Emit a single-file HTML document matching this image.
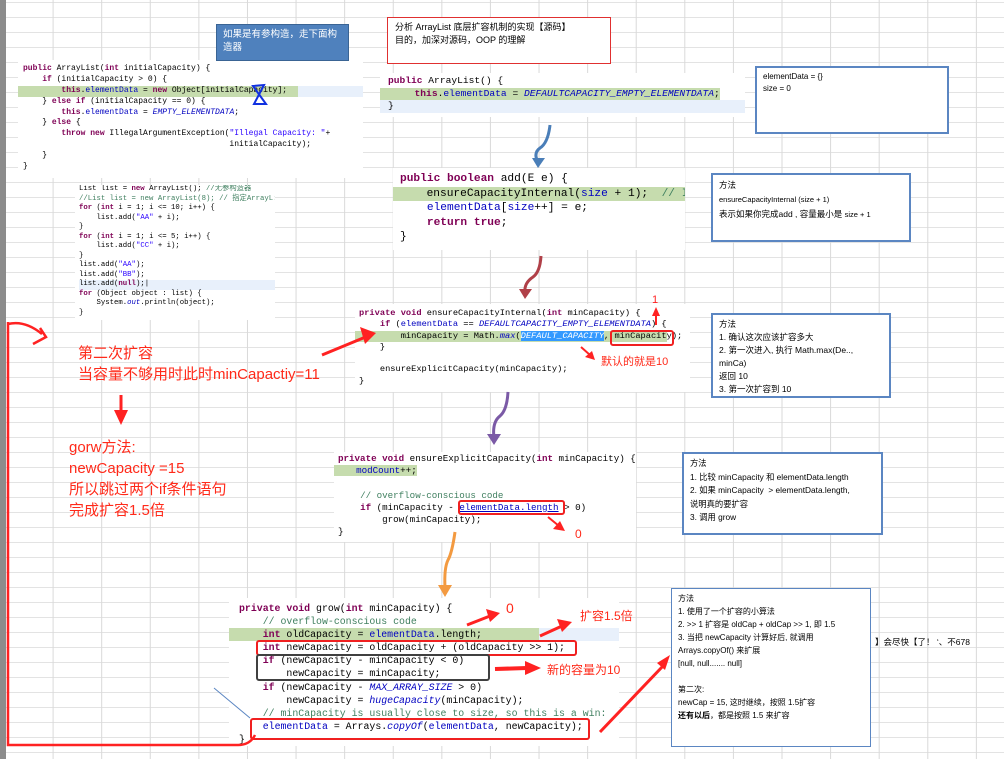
<!DOCTYPE html>
<html><head><meta charset="utf-8"><style>
*{margin:0;padding:0;box-sizing:border-box}
html,body{width:1004px;height:759px;overflow:hidden}
body{position:relative;background:#fff;
background-image:linear-gradient(to right,#d9d9d9 1px,transparent 1px),linear-gradient(to bottom,#e3e3e3 1px,transparent 1px);
background-size:48.6px 15px;background-position:4px 2px;font-family:"Liberation Sans","Noto Sans CJK SC",sans-serif}
.a{position:absolute}
.code{position:absolute;background:#fff;font-family:"Liberation Mono",monospace;color:#000;white-space:normal;overflow:hidden}
.code div{position:relative;height:var(--lh);line-height:var(--lh);white-space:pre}
.k{color:#7f0055;font-weight:bold}
.f{color:#0000c0}
.i{color:#0000c0;font-style:italic}
.c{color:#3f7f5f}
.s{color:#2a00ff}
.g{background:#c6dcae}
.hl{background:#e8f0fb}
.box{position:absolute;background:#fff;border:2px solid #5b86c2;font-size:9px;line-height:13.5px;padding:3px 6px;color:#000}
.rt{position:absolute;color:#ff2a1a;font-size:15px;line-height:21px;white-space:nowrap}
.rbox{position:absolute;border:2.5px solid #f02020;border-radius:3px}
</style></head><body>
<div class="a" style="left:0;top:0;width:6px;height:759px;background:#8c8c8c"></div>

<div class="code" style="left:18px;top:60px;width:345px;height:118px;font-size:8px;--lh:10.9px;padding-top:4px"><div style="left:5px"><span class="k">public</span> ArrayList(<span class="k">int</span> initialCapacity) {</div><div style="left:5px">    <span class="k">if</span> (initialCapacity &gt; 0) {</div><div class="hl" style="left:-2px;width:348px"><span class="g" style="padding-left:7px;display:inline-block;width:282px">        <span class="k">this</span>.<span class="f">elementData</span> = <span class="k">new</span> Object[initialCapacity];</span></div><div style="left:5px">    } <span class="k">else if</span> (initialCapacity == 0) {</div><div style="left:5px">        <span class="k">this</span>.<span class="f">elementData</span> = <span class="i">EMPTY_ELEMENTDATA</span>;</div><div style="left:5px">    } <span class="k">else</span> {</div><div style="left:5px">        <span class="k">throw new</span> IllegalArgumentException(<span class="s">"Illegal Capacity: "</span>+</div><div style="left:5px">                                           initialCapacity);</div><div style="left:5px">    }</div><div style="left:5px">}</div></div>
<svg class="a" style="left:250px;top:82px" width="20" height="28"><path d="M3 4 L14 3 L4 22 L16 22 Z" fill="none" stroke="#1030e0" stroke-width="2"/></svg>

<div class="a" style="left:216px;top:24px;width:133px;height:37px;background:#4f81bd;border:1px solid #3a6494;color:#fff;font-size:9.5px;line-height:13px;padding:3px 6px">如果是有参构造，走下面构造器</div>

<div class="a" style="left:387px;top:17px;width:224px;height:47px;border:1.5px solid #e03030;background:#fff;font-size:9px;line-height:12.5px;padding:3px 7px">分析 ArrayList 底层扩容机制的实现【源码】<br>目的，加深对源码，OOP 的理解</div>

<div class="code" style="left:75px;top:185px;width:200px;height:135px;font-size:7.3px;--lh:9.5px;padding-left:4px"><div>List list = <span class="k">new</span> ArrayList(); <span class="c">//无参构造器</span></div><div><span class="c">//List list = new ArrayList(8); // 指定ArrayL:</span></div><div><span class="k">for</span> (<span class="k">int</span> i = 1; i &lt;= 10; i++) {</div><div>    list.add(<span class="s">"AA"</span> + i);</div><div>}</div><div><span class="k">for</span> (<span class="k">int</span> i = 1; i &lt;= 5; i++) {</div><div>    list.add(<span class="s">"CC"</span> + i);</div><div>}</div><div>list.add(<span class="s">"AA"</span>);</div><div>list.add(<span class="s">"BB"</span>);</div><div class="hl">list.add(<span class="k">null</span>);|</div><div><span class="k">for</span> (Object object : list) {</div><div>    System.<span class="i">out</span>.println(object);</div><div>}</div></div>

<div class="code" style="left:380px;top:73px;width:365px;height:44px;font-size:9.6px;--lh:12.7px;padding-top:2px"><div style="left:8px"><span class="k">public</span> ArrayList() {</div><div class="g" style="width:340px">      <span class="k">this</span>.<span class="f">elementData</span> = <span class="i">DEFAULTCAPACITY_EMPTY_ELEMENTDATA</span>;</div><div class="hl" style="padding-left:8px">}</div></div>
<div class="box" style="left:755px;top:66px;width:194px;height:68px;font-size:8px;line-height:12px">elementData = {}<br>size = 0</div>

<div class="code" style="left:393px;top:168px;width:292px;height:82px;font-size:11.2px;--lh:14.5px;padding-top:4px"><div style="left:7px"><span class="k">public boolean</span> add(E e) {</div><div class="g">     ensureCapacityInternal(<span class="f">size</span> + 1);  <span class="c">// I</span></div><div style="left:7px">    <span class="f">elementData</span>[<span class="f">size</span>++] = e;</div><div style="left:7px">    <span class="k">return true</span>;</div><div style="left:7px">}</div></div>
<div class="box" style="left:711px;top:173px;width:200px;height:69px;font-size:8.5px;line-height:14px">方法<br><span style="font-size:7.5px">ensureCapacityInternal (size + 1)</span><br>表示如果你完成add , 容量最小是 <span style="font-size:7.5px">size + 1</span></div>

<div class="code" style="left:355px;top:304px;width:335px;height:88px;font-size:8.7px;--lh:11.3px;padding-top:4px"><div style="left:4px"><span class="k">private void</span> ensureCapacityInternal(<span class="k">int</span> minCapacity) {</div><div style="left:4px">    <span class="k">if</span> (<span class="f">elementData</span> == <span class="i">DEFAULTCAPACITY_EMPTY_ELEMENTDATA</span>) {</div><div class="g" style="width:312px;padding-left:4px">        minCapacity = Math.<span class="i">max</span>(<span class="i" style="background:#3399ff;color:#fff">DEFAULT_CAPACITY</span>, minCapacity);</div><div style="left:4px">    }</div><div style="left:4px"> </div><div style="left:4px">    ensureExplicitCapacity(minCapacity);</div><div style="left:4px">}</div></div>
<div class="rbox" style="left:610px;top:330px;width:64px;height:16px"></div>
<div class="a" style="left:652px;top:294px;color:#ff2020;font-size:11px">1</div>
<div class="rt" style="left:601px;top:355px;font-size:11px;line-height:14px">默认的就是10</div>
<div class="box" style="left:711px;top:313px;width:180px;height:85px;font-size:8.5px;line-height:13px">方法<br>1. 确认这次应该扩容多大<br>2. 第一次进入, 执行 Math.max(De..,<br>minCa)<br>返回 10<br>3. 第一次扩容到 10</div>

<div class="code" style="left:334px;top:452px;width:302px;height:90px;font-size:9.2px;--lh:12.2px;padding-top:1px"><div style="left:4px"><span class="k">private void</span> ensureExplicitCapacity(<span class="k">int</span> minCapacity) {</div><div><span class="g">    <span class="f">modCount</span>++;</span></div><div> </div><div style="left:4px">    <span class="c">// overflow-conscious code</span></div><div style="left:4px">    <span class="k">if</span> (minCapacity - <span class="f" style="text-decoration:underline">elementData.length</span> &gt; 0)</div><div style="left:4px">        grow(minCapacity);</div><div style="left:4px">}</div></div>
<div class="rbox" style="left:458px;top:500px;width:107px;height:15px"></div>
<div class="rt" style="left:575px;top:527px;font-size:12px;line-height:14px">0</div>
<div class="box" style="left:682px;top:452px;width:201px;height:83px;font-size:8.3px;line-height:13.5px">方法<br>1. 比较 minCapacity 和 elementData.length<br>2. 如果 minCapacity &nbsp;&gt; elementData.length,<br>说明真的要扩容<br>3. 调用 grow</div>

<div class="code" style="left:229px;top:598px;width:390px;height:148px;font-size:9.9px;--lh:13.1px;padding-top:4px"><div style="left:10px"><span class="k">private void</span> grow(<span class="k">int</span> minCapacity) {</div><div style="left:10px">    <span class="c">// overflow-conscious code</span></div><div class="hl" style="width:390px"><span class="g" style="display:inline-block;width:310px;padding-left:10px">    <span class="k">int</span> oldCapacity = <span class="f">elementData</span>.length;</span></div><div style="left:10px">    <span class="k">int</span> newCapacity = oldCapacity + (oldCapacity &gt;&gt; 1);</div><div style="left:10px">    <span class="k">if</span> (newCapacity - minCapacity &lt; 0)</div><div style="left:10px">        newCapacity = minCapacity;</div><div style="left:10px">    <span class="k">if</span> (newCapacity - <span class="i">MAX_ARRAY_SIZE</span> &gt; 0)</div><div style="left:10px">        newCapacity = <span class="i">hugeCapacity</span>(minCapacity);</div><div style="left:10px">    <span class="c">// minCapacity is usually close to size, so this is a win:</span></div><div style="left:10px">    <span class="f">elementData</span> = Arrays.<span class="i">copyOf</span>(<span class="f">elementData</span>, newCapacity);</div><div style="left:10px">}</div></div>
<div class="rbox" style="left:256px;top:640px;width:321px;height:16px"></div>
<div class="rbox" style="left:256px;top:654px;width:234px;height:27px;border-color:#404040"></div>
<div class="rbox" style="left:250px;top:718px;width:340px;height:22px"></div>
<div class="rt" style="left:506px;top:598px;font-size:14px">0</div>
<div class="rt" style="left:580px;top:606px;font-size:12px">扩容1.5倍</div>
<div class="rt" style="left:547px;top:660px;font-size:12px">新的容量为10</div>
<div class="box" style="left:671px;top:588px;width:200px;height:159px;font-size:8px;line-height:13px;border-width:1.5px">方法<br>1. 使用了一个扩容的小算法<br>2. &gt;&gt; 1 扩容是 oldCap + oldCap &gt;&gt; 1, 即 1.5<br>3. 当把 newCapacity 计算好后, 就调用<br>Arrays.copyOf() 来扩展<br>[null, null....... null]<br><br>第二次:<br>newCap = 15, 这时继续，按照 1.5扩容<br><b>还有以后</b>，都是按照 1.5 来扩容</div>
<div class="a" style="left:875px;top:636px;font-size:8.5px">】会尽快【了！ ‘、不678</div>

<div class="rt" style="left:78px;top:343px">第二次扩容<br>当容量不够用时此时minCapactiy=11</div>
<div class="rt" style="left:69px;top:437px">gorw方法:<br>newCapacity =15<br>所以跳过两个if条件语句<br>完成扩容1.5倍</div>

<svg class="a" style="left:0;top:0" width="1004" height="759">
<path d="M8 322 L8 745 L238 745 Q250 745 255 735" fill="none" stroke="#f22" stroke-width="2.5"/>
<path d="M8 324 Q25 320 42 334 M33 344 L46 337 L40 328" fill="none" stroke="#f22" stroke-width="2.5"/>
<path d="M121 395 L121 412" stroke="#f22" stroke-width="3"/><path d="M114 410 L121 425 L128 410 Z" fill="#f22"/>
<path d="M322 355 L368 336" stroke="#f22" stroke-width="3"/><path d="M360 327 L376 333 L365 344 Z" fill="#f22"/>
<path d="M656 325 L656 314" stroke="#f22" stroke-width="2"/><path d="M652 316 L656 307 L660 316 Z" fill="#f22"/>
<path d="M581 347 L590 355" stroke="#f22" stroke-width="2"/><path d="M585 357 L595 360 L592 351 Z" fill="#f22"/>
<path d="M548 517 L559 526" stroke="#f22" stroke-width="2"/><path d="M553 529 L565 531 L560 521 Z" fill="#f22"/>
<path d="M467 625 L490 616" stroke="#f22" stroke-width="3"/><path d="M486 609 L500 613 L490 622 Z" fill="#f22"/>
<path d="M540 636 L562 626" stroke="#f22" stroke-width="3"/><path d="M557 619 L572 622 L562 632 Z" fill="#f22"/>
<path d="M495 669 L527 668" stroke="#f22" stroke-width="4"/><path d="M525 661 L541 668 L525 675 Z" fill="#f22"/>
<path d="M600 732 L663 666" stroke="#f22" stroke-width="3"/><path d="M657 663 L670 655 L665 670 Z" fill="#f22"/>
<path d="M214 688 L250 718" stroke="#5b86c2" stroke-width="1"/>
<path d="M550 125 Q548 143 540 148 Q533 153 538 162" fill="none" stroke="#4a7eb8" stroke-width="3"/><path d="M532 158 L538 168 L545 158 Z" fill="#4a7eb8"/>
<path d="M541 256 Q540 272 533 277 Q524 283 525 292" fill="none" stroke="#b04048" stroke-width="3"/><path d="M519 289 L525 299 L532 289 Z" fill="#b04048"/>
<path d="M508 392 Q507 410 500 416 Q492 422 494 438" fill="none" stroke="#7b5aa6" stroke-width="3"/><path d="M487 434 L494 445 L501 434 Z" fill="#7b5aa6"/>
<path d="M455 532 Q452 553 448 560 Q444 568 445 588" fill="none" stroke="#f39a40" stroke-width="3"/><path d="M438 585 L445 597 L452 585 Z" fill="#f39a40"/>
</svg>
</body></html>
